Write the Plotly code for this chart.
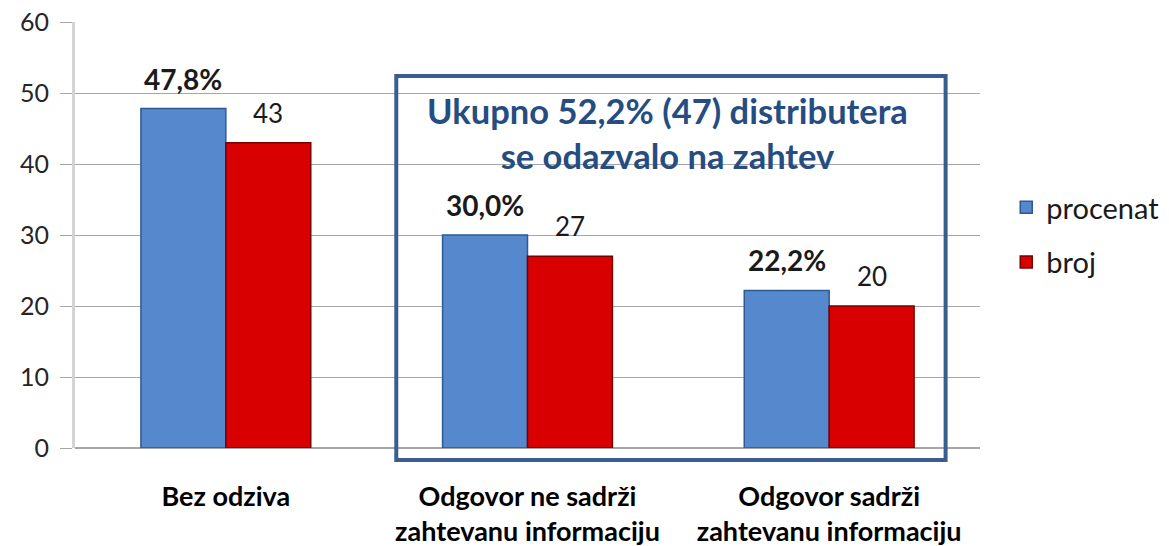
import plotly.graph_objects as go

categories = ["Bez odziva", "Odgovor ne sadrži<br>zahtevanu informaciju", "Odgovor sadrži<br>zahtevanu informaciju"]
procenat = [47.8, 30.0, 22.2]
broj = [43, 27, 20]
series_names = ["procenat", "broj"]
y_ticks = [0, 10, 20, 30, 40, 50, 60]
box_text = "Ukupno 52,2% (47) distributera<br>se odazvalo na zahtev"

FONT = "Lato"
bargap = 0.437
bw = (1 - bargap) / 2

fig = go.Figure()
fig.add_trace(go.Bar(
    x=list(range(len(categories))), y=procenat, name=series_names[0],
    marker=dict(color="#5588CC", line=dict(color="#2E5A94", width=1.5)),
    legendgroup="a",
))
fig.add_trace(go.Bar(
    x=list(range(len(categories))), y=broj, name=series_names[1],
    marker=dict(color="#D80000", line=dict(color="#7A0000", width=1.5)),
    legendgroup="b",
))

for i, (p, b) in enumerate(zip(procenat, broj)):
    fig.add_annotation(x=i - bw / 2, y=p, text="<b>" + f"{p:.1f}".replace(".", ",") + "%</b>",
                       showarrow=False, yanchor="bottom", yshift=11,
                       font=dict(family=FONT, size=28, color="#1a1a1a"))
    fig.add_annotation(x=i + bw / 2, y=b, text=str(b),
                       showarrow=False, yanchor="bottom", yshift=12,
                       font=dict(family=FONT, size=26, color="#1a1a1a"))

fig.add_shape(type="rect", xref="paper", yref="paper", x0=0.355, x1=0.962, y0=-0.028, y1=0.873,
              line=dict(color="#3A5D8F", width=4), fillcolor="rgba(0,0,0,0)", layer="above")
fig.add_annotation(xref="paper", yref="paper", x=0.655, y=0.845, yanchor="top", showarrow=False,
                   text="<b>" + box_text + "</b>", align="center",
                   font=dict(family=FONT, size=34.5, color="#254D82"))

fig.update_layout(
    width=1169, height=546,
    margin=dict(l=75, r=189, t=22, b=98, autoexpand=False),
    paper_bgcolor="white", plot_bgcolor="white",
    barmode="group", bargap=bargap, bargroupgap=0,
    font=dict(family=FONT, color="#1a1a1a"),
    legend=dict(x=1.029, y=0.50, xanchor="left", yanchor="middle",
                font=dict(family=FONT, size=29, color="#1a1a1a"), tracegroupgap=14),
    xaxis=dict(tickmode="array", tickvals=list(range(len(categories))),
               ticktext=["<b>" + c + "</b>" for c in categories],
               range=[-0.5, len(categories) - 0.5], showgrid=False, showline=False,
               ticks="", tickfont=dict(family=FONT, size=27, color="black"),
               ticklabelstandoff=30, automargin=False),
    yaxis=dict(range=[0, 60], tickvals=y_ticks, showgrid=True, gridcolor="#A6A6A6", gridwidth=1,
               showline=True, linecolor="#D4D4D4", linewidth=3,
               ticks="outside", ticklen=12, tickcolor="#A6A6A6",
               tickfont=dict(family=FONT, size=25, color="#262626"), ticklabelstandoff=6,
               ticklabeloverflow="allow",
               zeroline=True, zerolinecolor="#A6A6A6", automargin=False),
)

fig.write_html("out.html", config={"displayModeBar": False},
               post_script="document.body.style.margin='0';document.body.style.overflow='hidden';")
